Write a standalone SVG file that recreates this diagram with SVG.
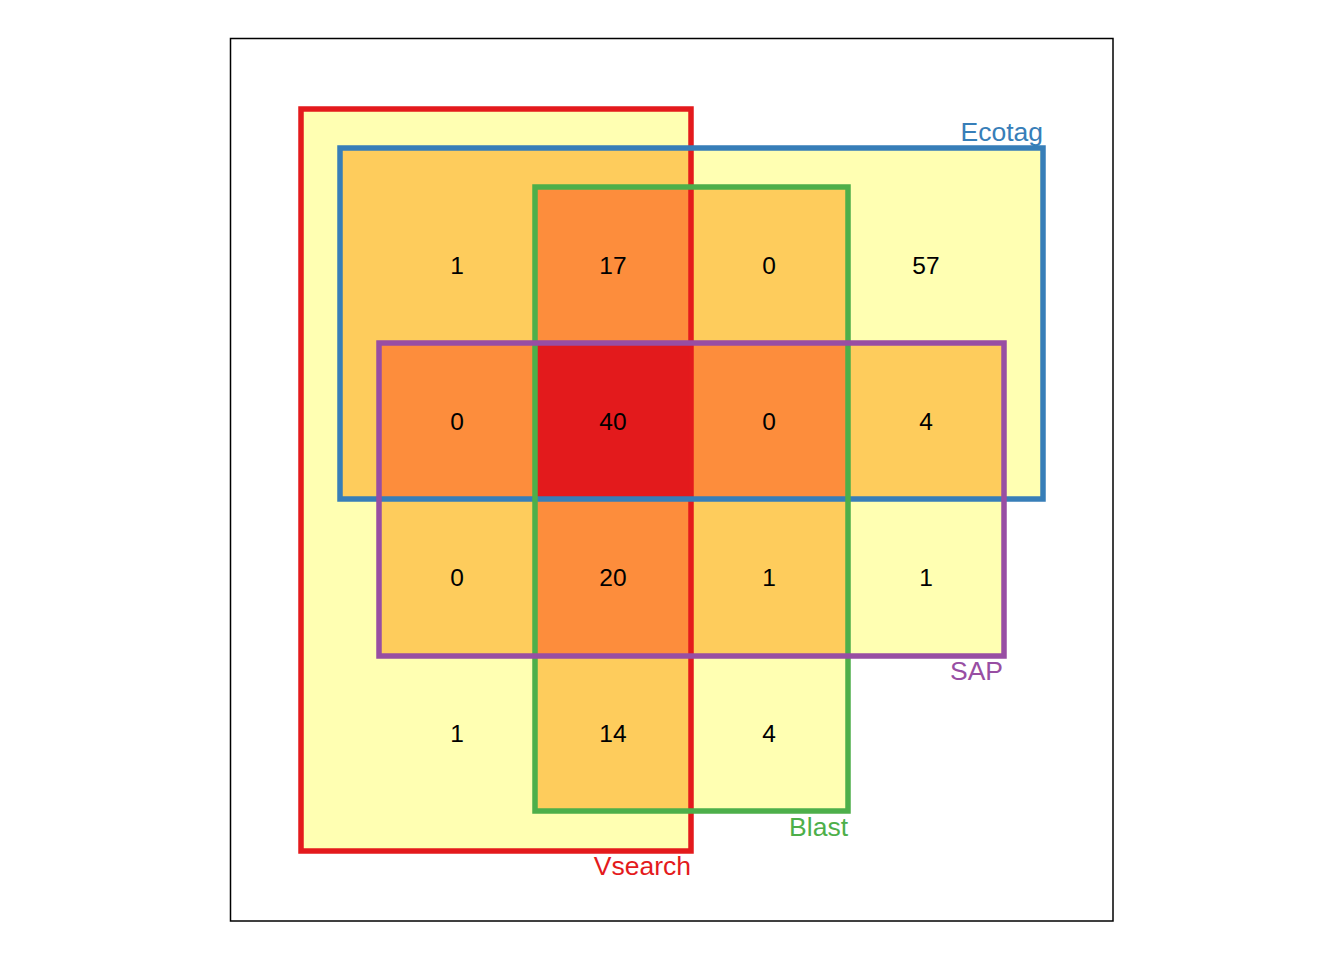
<svg xmlns="http://www.w3.org/2000/svg" width="1344" height="960" viewBox="0 0 1344 960">
<style>
.l1{fill:#FFFFB2}
.l2{fill:#FECC5C}
.l3{fill:#FD8D3C}
.l4{fill:#E31A1C}
.set{fill:none;stroke-width:5.5;stroke-linejoin:miter}
.num{font-family:"Liberation Sans",Arial,sans-serif;font-size:24.5px;text-anchor:middle;fill:#000}
.lab{font-family:"Liberation Sans",Arial,sans-serif;font-size:26.5px;text-anchor:end}
</style>
<rect width="1344" height="960" fill="#fff"/>
<rect id="frame" x="230.5" y="38.5" width="882.5" height="882.5" fill="none" stroke="#000" stroke-width="1.5"/>
<g id="regions">
<rect class="l1" x="301" y="109" width="390" height="742"/>
<rect class="l1" x="340" y="148" width="703" height="351"/>
<rect class="l1" x="535" y="187" width="313" height="624"/>
<rect class="l1" x="379" y="343" width="625" height="313"/>
<rect class="l2" x="340" y="148" width="351" height="351"/>
<rect class="l2" x="535" y="187" width="156" height="624"/>
<rect class="l2" x="379" y="343" width="312" height="313"/>
<rect class="l2" x="535" y="187" width="313" height="312"/>
<rect class="l2" x="379" y="343" width="625" height="156"/>
<rect class="l2" x="535" y="343" width="313" height="313"/>
<rect class="l3" x="535" y="187" width="156" height="312"/>
<rect class="l3" x="379" y="343" width="312" height="156"/>
<rect class="l3" x="535" y="343" width="156" height="313"/>
<rect class="l3" x="535" y="343" width="313" height="156"/>
<rect class="l4" x="535" y="343" width="156" height="156"/>
</g>
<g id="Vsearch">
<rect class="set" x="301" y="109" width="390" height="742" stroke="#E41A1C"/>
<text class="lab" x="691" y="875" fill="#E41A1C">Vsearch</text>
</g>
<g id="Ecotag">
<rect class="set" x="340" y="148" width="703" height="351" stroke="#377EB8"/>
<text class="lab" x="1043" y="141" fill="#377EB8">Ecotag</text>
</g>
<g id="Blast">
<rect class="set" x="535" y="187" width="313" height="624" stroke="#4DAF4A"/>
<text class="lab" x="848" y="836" fill="#4DAF4A">Blast</text>
</g>
<g id="SAP">
<rect class="set" x="379" y="343" width="625" height="313" stroke="#984EA3"/>
<text class="lab" x="1003" y="680" fill="#984EA3">SAP</text>
</g>
<g id="counts">
<text class="num" x="457" y="274">1</text>
<text class="num" x="613" y="274">17</text>
<text class="num" x="769" y="274">0</text>
<text class="num" x="926" y="274">57</text>
<text class="num" x="457" y="430">0</text>
<text class="num" x="613" y="430">40</text>
<text class="num" x="769" y="430">0</text>
<text class="num" x="926" y="430">4</text>
<text class="num" x="457" y="586">0</text>
<text class="num" x="613" y="586">20</text>
<text class="num" x="769" y="586">1</text>
<text class="num" x="926" y="586">1</text>
<text class="num" x="457" y="742">1</text>
<text class="num" x="613" y="742">14</text>
<text class="num" x="769" y="742">4</text>
</g>
<g id="connectors"/>
</svg>
